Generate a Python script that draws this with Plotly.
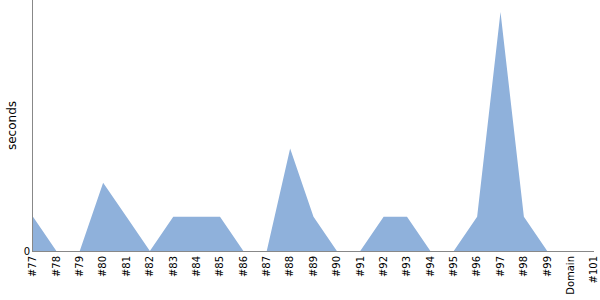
import plotly.graph_objects as go

categories = ["#77", "#78", "#79", "#80", "#81", "#82", "#83", "#84", "#85", "#86",
              "#87", "#88", "#89", "#90", "#91", "#92", "#93", "#94", "#95", "#96",
              "#97", "#98", "#99", "Domain", "#101"]
seconds = [1, 0, 0, 2, 1, 0, 1, 1, 1, 0,
           0, 3, 1, 0, 0, 1, 1, 0, 0, 1,
           7, 1, 0, 0, 0]

fig = go.Figure()
fig.add_trace(go.Scatter(
    x=list(range(len(categories))), y=seconds,
    mode="lines", fill="tozeroy",
    line=dict(width=0, color="rgb(143,177,219)"),
    fillcolor="rgb(143,177,219)",
    hoverinfo="skip",
))
fig.update_layout(
    width=600, height=300,
    margin=dict(l=33, r=6, t=0, b=49),
    paper_bgcolor="white", plot_bgcolor="white",
    showlegend=False,
    font=dict(family="DejaVu Sans", size=10, color="#000"),
    xaxis=dict(
        range=[0, len(categories) - 1],
        tickmode="array",
        tickvals=list(range(len(categories))),
        ticktext=categories,
        tickangle=-90,
        showgrid=False, zeroline=False,
        showline=True, linecolor="#888", linewidth=1,
        ticks="", tickfont=dict(family="DejaVu Sans", size=10, color="#000"),
    ),
    yaxis=dict(
        range=[0, 7.35],
        tickmode="array", tickvals=[0], ticktext=["0"],
        showgrid=False, zeroline=False,
        showline=True, linecolor="#888", linewidth=1,
        ticks="", tickfont=dict(family="DejaVu Sans", size=10, color="#000"),
        title=dict(text="seconds", font=dict(family="DejaVu Sans", size=12, color="#000"), standoff=4),
    ),
)
fig.write_html("out.html")
